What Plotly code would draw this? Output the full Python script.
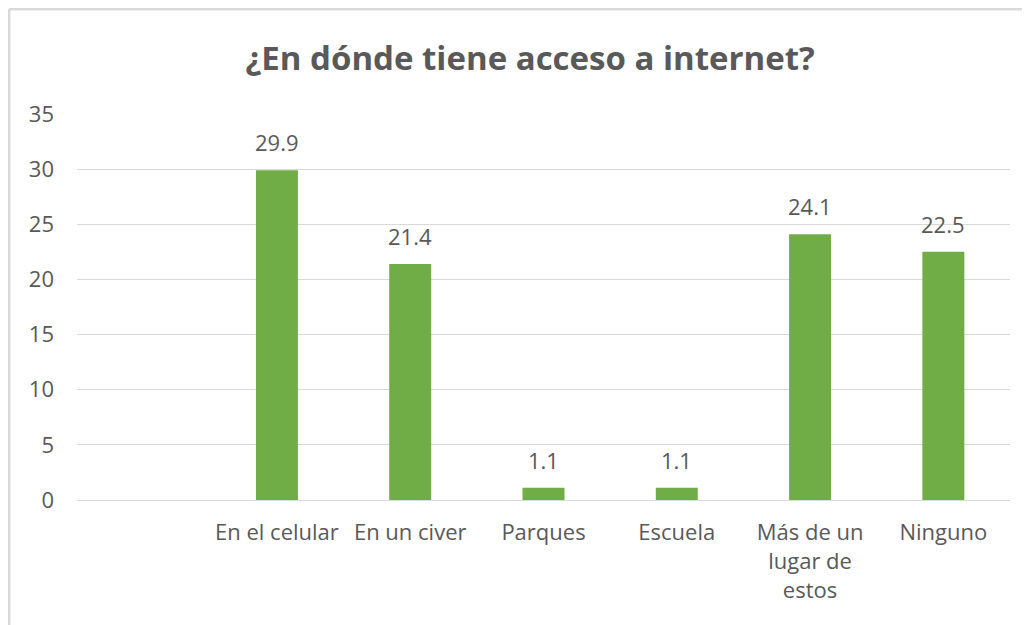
import plotly.graph_objects as go

# Datos
categorias = ["", "En el celular", "En un civer", "Parques", "Escuela",
              "Más de un<br>lugar de<br>estos", "Ninguno"]
valores = [None, 29.9, 21.4, 1.1, 1.1, 24.1, 22.5]
etiquetas = ["" if v is None else f"{v:.1f}" for v in valores]
ticks_y = [0, 5, 10, 15, 20, 25, 30, 35]

FONT = "Open Sans, sans-serif"
GRIS = "#595959"

fig = go.Figure()

fig.add_trace(go.Bar(
    x=list(range(len(categorias))),
    y=valores,
    marker_color="#70ad47",
    marker_line_width=0,
    hoverinfo="skip",
))

# Etiquetas de datos sobre las barras
for i, (v, t) in enumerate(zip(valores, etiquetas)):
    if v is None:
        continue
    fig.add_annotation(
        x=i, y=v, text=t, showarrow=False,
        yanchor="middle", yshift=28,
        font=dict(size=22, color=GRIS, family=FONT),
    )

fig.update_layout(
    width=1030,
    height=625,
    paper_bgcolor="white",
    plot_bgcolor="white",
    bargap=0.685,
    showlegend=False,
    margin=dict(l=69, r=28, t=106, b=133),
    title=dict(
        text="<b>¿En dónde tiene acceso a internet?</b>",
        x=0.507, xanchor="center",
        y=0.92, yanchor="middle",
        font=dict(size=33, color=GRIS, family=FONT),
    ),
    xaxis=dict(
        tickmode="array",
        tickvals=list(range(len(categorias))),
        ticktext=categorias,
        range=[-0.5, len(categorias) - 0.5],
        showgrid=False,
        zeroline=False,
        showline=True,
        linecolor="#d9d9d9",
        linewidth=1,
        ticks="",
        tickfont=dict(size=22, color=GRIS, family=FONT),
        ticklabelstandoff=13,
    ),
    yaxis=dict(
        range=[0, 35],
        tickvals=ticks_y,
        showgrid=True,
        gridcolor="#d9d9d9",
        gridwidth=1,
        zeroline=False,
        showline=False,
        ticks="",
        tickfont=dict(size=22, color=GRIS, family=FONT),
        ticklabelstandoff=22,
    ),
    shapes=[
        # marco del gráfico
        dict(type="line", xref="paper", yref="paper",
             x0=-0.0729, x1=1.05, y0=1.272, y1=1.272,
             line=dict(color="#d9d9d9", width=3)),
        dict(type="line", xref="paper", yref="paper",
             x0=-0.0729, x1=-0.0729, y0=1.272, y1=-0.4,
             line=dict(color="#d9d9d9", width=3)),
    ],
)

fig.write_html("out.html")
